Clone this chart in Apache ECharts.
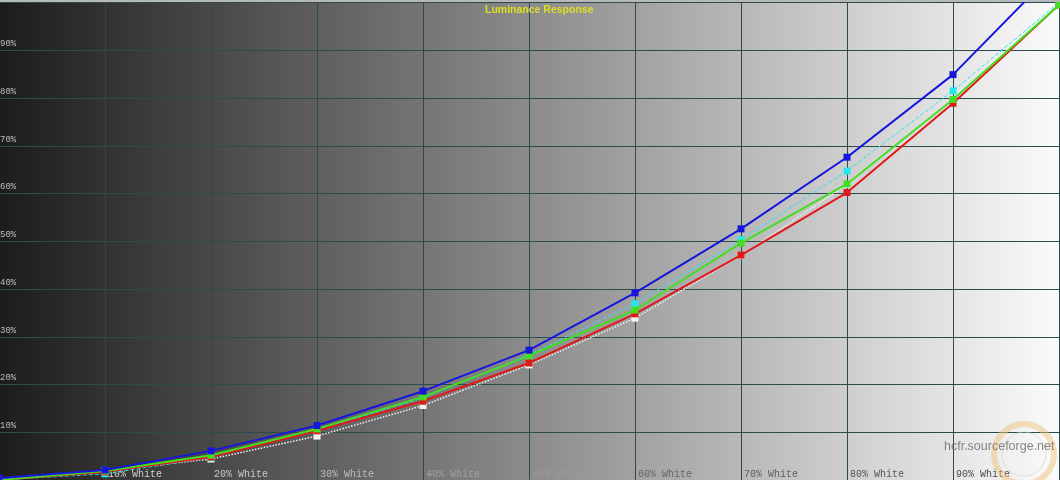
<!DOCTYPE html>
<html>
<head>
<meta charset="utf-8">
<script src="https://cdn.jsdelivr.net/npm/echarts@6/dist/echarts.min.js"></script>
<style>html,body{margin:0;padding:0;}#c{width:1060px;height:480px;}</style>
</head>
<body>
<div id="c"></div>
<script>
const levels = [0, 10, 20, 30, 40, 50, 60, 70, 80, 90, 100];
const xTickLabels = ['', '10% White', '20% White', '30% White', '40% White', '50% White', '60% White', '70% White', '80% White', '90% White', ''];
const yTickLabels = ['', '10%', '20%', '30%', '40%', '50%', '60%', '70%', '80%', '90%', ''];
const reference = [0, 2.0, 4.4, 9.2, 15.6, 24.1, 33.9, 47.0, 61.9, 79.6, 100];
const cyanY = [0, 1.3, 4.7, 10.5, 17.2, 26.2, 36.9, 50.3, 64.7, 81.5, 100];
const redY = [0, 1.7, 4.8, 10.3, 16.5, 24.5, 34.8, 47.1, 60.2, 78.9, 99.5];
const greenY = [0, 1.9, 5.2, 10.7, 17.4, 26.0, 35.6, 49.6, 62.0, 79.7, 99.5];
const blueY = [0.4, 2.1, 6.1, 11.4, 18.6, 27.2, 39.2, 52.6, 67.6, 84.9, 107.5];

// label text colours per x tick (style only)
const xLabelColors = ['#ccc', '#cfcfcf', '#c8c8c8', '#bdbdbd', '#a2a2a2', '#9a9a9a', '#666', '#606060', '#555', '#4a4a4a', '#444'];

const chart = echarts.init(document.getElementById('c'), null, {renderer: 'canvas'});
const pair = arr => levels.map((l, i) => [l, arr[i]]);
function ser(name, data, color, width, type, z, msize) {
  return {
    name, type: 'line', data: pair(data), z,
    symbol: 'rect', symbolSize: msize, showSymbol: true,
    lineStyle: {color, width, type},
    itemStyle: {color},
    clip: true, animation: false
  };
}
chart.setOption({
  animation: false,
  backgroundColor: new echarts.graphic.LinearGradient(0, 0, 1, 0, [
    {offset: 0, color: '#1c1c1c'},
    {offset: 1, color: '#fbfbfb'}
  ]),
  title: {
    text: 'Luminance Response', left: 480, top: 0,
    textStyle: {color: '#dede22', fontSize: 10.5, fontWeight: 'bold', fontFamily: 'Liberation Sans, Arial'}
  },
  grid: {left: -1, right: 1, top: 2.5, bottom: 0, containLabel: false, outerBoundsMode: 'none'},
  xAxis: {
    type: 'value', min: 0, max: 100, interval: 10,
    axisLine: {show: false}, axisTick: {show: false},
    splitLine: {show: true, lineStyle: {color: '#2b4c4c', width: 1}},
    axisLabel: {
      inside: true, margin: 1, align: 'left', verticalAlign: 'bottom',
      padding: [0, 0, 0, 3],
      color: (v) => xLabelColors[levels.indexOf(Number(v))] || '#999',
      fontSize: 10, fontFamily: 'Liberation Mono, Courier New, monospace',
      formatter: v => xTickLabels[levels.indexOf(Number(v))] || ''
    }
  },
  yAxis: {
    type: 'value', min: 0, max: 100, interval: 10,
    axisLine: {show: false}, axisTick: {show: false},
    splitLine: {show: true, lineStyle: {color: '#2b4c4c', width: 1}},
    axisLabel: {
      inside: true, margin: 1, align: 'left', verticalAlign: 'bottom',
      padding: [0, 0, 2, 0],
      color: '#bcbcbc', fontSize: 9, fontFamily: 'Liberation Mono, Courier New, monospace',
      formatter: v => yTickLabels[levels.indexOf(Number(v))] || ''
    }
  },
  graphic: [
    {type: 'rect', shape: {x: 0, y: 0, width: 1060, height: 2}, style: {fill: '#b8b8b8'}, z: 100},
    {type: 'circle', shape: {cx: 1024, cy: 454, r: 30}, style: {fill: 'none', stroke: '#f0c27a', lineWidth: 6, opacity: 0.5}, z: 1},
    {type: 'circle', shape: {cx: 1024, cy: 454, r: 22}, style: {fill: 'none', stroke: '#cfcfcf', lineWidth: 1, opacity: 0.6}, z: 1},
    {type: 'text', x: 944, y: 440, style: {text: 'hcfr.sourceforge.net', fill: '#858585', font: '12.5px Liberation Sans, Arial'}, z: 2}
  ],
  series: [
    ser('Reference', reference, '#f2f2f2', 1.5, 'dotted', 3, 7),
    ser('Cyan', cyanY, '#26e6ee', 1, 'dashed', 4, 7),
    ser('Red', redY, '#e01a1a', 2, 'solid', 5, 7),
    ser('Green', greenY, '#44dd22', 2, 'solid', 6, 7),
    ser('Blue', blueY, '#1616dc', 2, 'solid', 7, 7)
  ]
});
</script>
</body>
</html>
